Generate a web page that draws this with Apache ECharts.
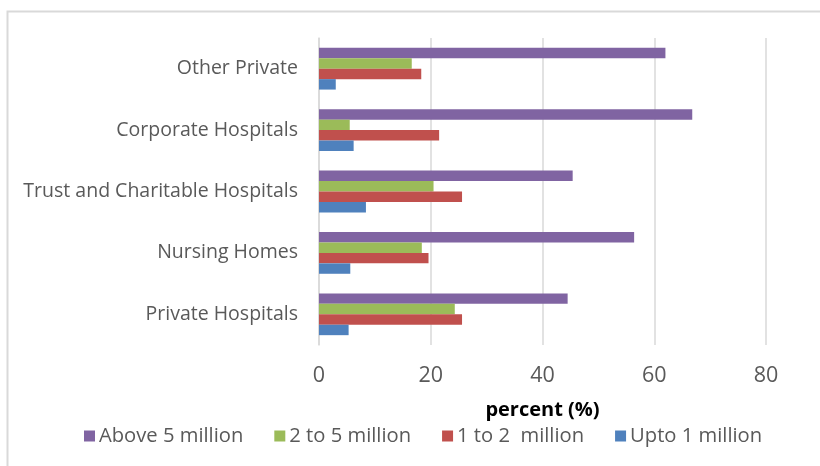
<!DOCTYPE html>
<html>
<head>
<meta charset="utf-8">
<script src="https://cdn.jsdelivr.net/npm/echarts@6/dist/echarts.min.js"></script>
<style>
  html, body { margin: 0; padding: 0; background: #ffffff; }
  #chart { width: 820px; height: 466px; }
</style>
</head>
<body>
<div id="chart"></div>
<script>
// Hospital categories, bottom to top on the vertical axis
const categories = ['Private Hospitals', 'Nursing Homes', 'Trust and Charitable Hospitals', 'Corporate Hospitals', 'Other Private'];

// Share of hospitals (%) in each size band
const upto1Million = [5.3, 5.6, 8.4, 6.2, 3.0];
const oneTo2Million = [25.6, 19.6, 25.6, 21.5, 18.3];
const twoTo5Million = [24.3, 18.4, 20.5, 5.5, 16.6];
const above5Million = [44.5, 56.4, 45.4, 66.8, 62.0];

const xTicks = [0, 20, 40, 60, 80];
const legendOrder = ['Above 5 million', '2 to 5 million', '1 to 2  million', 'Upto 1 million'];

const FONT = '"Open Sans", "Liberation Sans", sans-serif';
const TEXT = '#595959';
const GRID = '#D9D9D9';

const chart = echarts.init(document.getElementById('chart'), null, { renderer: 'canvas' });

function bar(name, data, color) {
  return {
    name: name,
    type: 'bar',
    data: data,
    barGap: '0%',
    barCategoryGap: '32%',
    itemStyle: { color: color },
    emphasis: { disabled: true }
  };
}

chart.setOption({
  animation: false,
  backgroundColor: '#ffffff',
  graphic: [{
    type: 'rect',
    shape: { x: 7.5, y: 11.5, width: 830, height: 470 },
    style: { fill: 'none', stroke: GRID, lineWidth: 2 },
    silent: true
  }],
  grid: { left: 319, right: 54, top: 38, bottom: 121, containLabel: false },
  legend: {
    data: legendOrder,
    left: 79,
    top: 421,
    itemWidth: 11,
    itemHeight: 11,
    itemGap: 31,
    icon: 'rect',
    textStyle: { color: TEXT, fontFamily: FONT, fontSize: 20.2, padding: [0, 0, 0, -1] }
  },
  xAxis: {
    type: 'value',
    min: xTicks[0],
    max: xTicks[xTicks.length - 1],
    interval: 20,
    name: 'percent (%)',
    nameLocation: 'middle',
    nameGap: 55,
    nameTextStyle: { color: '#000000', fontFamily: FONT, fontSize: 20, fontWeight: 'bold' },
    axisLine: { show: false },
    axisTick: { show: false },
    axisLabel: { color: TEXT, fontFamily: FONT, fontSize: 21.5, margin: 20 },
    splitLine: { show: true, lineStyle: { color: GRID, width: 1.5 } }
  },
  yAxis: {
    type: 'category',
    data: categories,
    axisLine: { show: true, lineStyle: { color: GRID, width: 1.5 } },
    axisTick: { show: false },
    axisLabel: { color: TEXT, fontFamily: FONT, fontSize: 19.5, margin: 21 }
  },
  // Series listed top-down within each group
  series: [
    bar('Above 5 million', above5Million, '#8064A2'),
    bar('2 to 5 million', twoTo5Million, '#9BBB59'),
    bar('1 to 2  million', oneTo2Million, '#C0504D'),
    bar('Upto 1 million', upto1Million, '#4F81BD')
  ]
});
</script>
</body>
</html>
